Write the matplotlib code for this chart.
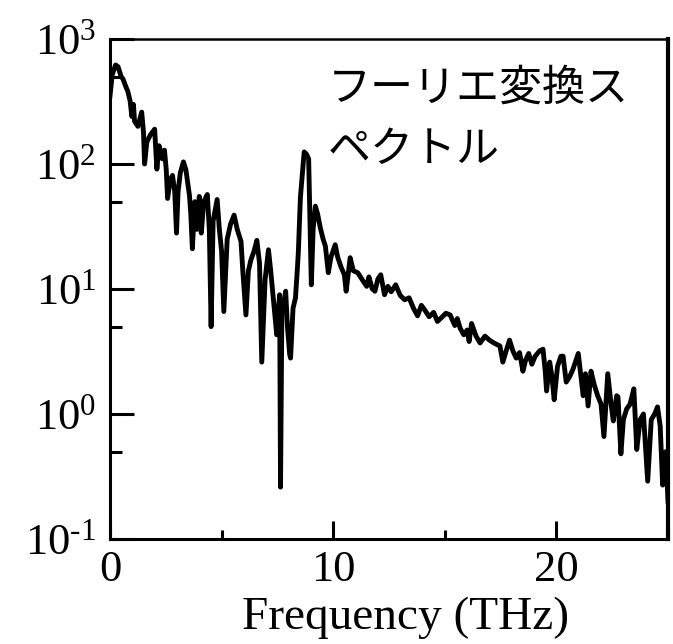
import matplotlib
matplotlib.use('Agg')
import matplotlib.pyplot as plt

# Spectrum (frequency in THz, amplitude)
freq = [0.00, 0.10, 0.25, 0.36, 0.50, 0.58, 0.70, 0.80, 0.90, 0.98, 1.05, 1.10, 1.25, 1.42, 1.50,
        1.55, 1.65, 1.80, 2.00, 2.10, 2.20, 2.35, 2.44, 2.52, 2.58, 2.70, 2.80, 2.90, 2.98, 3.05,
        3.15, 3.29, 3.40, 3.56, 3.62, 3.69, 3.80, 3.90, 4.00, 4.09, 4.20, 4.36, 4.45, 4.53, 4.62,
        4.80, 4.90, 5.00, 5.10, 5.25, 5.40, 5.56, 5.70, 5.87, 5.95, 6.09, 6.20, 6.31, 6.45, 6.58,
        6.70, 6.80, 6.95, 7.10, 7.20, 7.33, 7.40, 7.47, 7.55, 7.60, 7.64, 7.70, 7.80, 7.87, 7.95,
        8.05, 8.09, 8.20, 8.31, 8.40, 8.44, 8.53, 8.70, 8.80, 8.90, 9.02, 9.10, 9.20, 9.30, 9.42,
        9.55, 9.65, 9.78, 9.90, 10.09, 10.20, 10.35, 10.50, 10.58, 10.76, 10.90, 11.10, 11.35, 11.50, 11.60,
        11.75, 11.87, 12.00, 12.13, 12.30, 12.45, 12.60, 12.80, 13.00, 13.20, 13.40, 13.60, 13.78, 13.95, 14.10,
        14.30, 14.50, 14.67, 14.85, 15.05, 15.24, 15.45, 15.56, 15.69, 15.85, 16.00, 16.09, 16.20, 16.40, 16.58,
        16.80, 17.00, 17.20, 17.47, 17.60, 17.75, 17.90, 18.05, 18.20, 18.35, 18.50, 18.62, 18.76, 18.90, 19.05,
        19.25, 19.40, 19.50, 19.56, 19.70, 19.80, 19.90, 20.05, 20.20, 20.30, 20.44, 20.60, 20.75, 20.98, 21.10,
        21.20, 21.30, 21.42, 21.55, 21.70, 21.85, 22.00, 22.13, 22.30, 22.45, 22.55, 22.70, 22.76, 22.89, 23.00,
        23.15, 23.30, 23.47, 23.60, 23.75, 23.90, 24.09, 24.25, 24.40, 24.53, 24.65, 24.76, 24.90, 25.00]
amp = [350, 520, 620, 600, 500, 480, 420, 380, 320, 240, 300, 220, 200, 260, 180,
       100, 150, 170, 190, 91, 140, 110, 129, 90, 53, 75, 81, 60, 28, 60,
       85, 104, 90, 56, 40, 21, 50, 30, 55, 28, 50, 57, 30, 5.0, 35,
       52, 30, 20, 6.6, 25, 33, 39, 30, 24, 14, 6.2, 14, 17, 20, 24.5,
       16, 2.6, 12, 20.6, 14, 8, 6, 4.3, 7, 9, 0.26, 6.5, 8, 9.6, 5,
       3, 2.8, 7, 8.5, 15, 20, 54, 125, 120, 110, 10.8, 30, 46, 40, 31,
       25, 22, 13.5, 18, 22.6, 18, 15, 13, 9.6, 17.8, 14, 13.5, 11.5, 10.5, 12.5,
       10, 9.6, 12, 13, 9, 10.5, 9.5, 10.8, 8.9, 8.2, 8.5, 7.0, 6.1, 7.4, 6.8,
       6.0, 6.5, 5.5, 5.9, 6.4, 6.2, 5.1, 5.8, 4.85, 4.3, 4.7, 3.8, 5.3, 4.2, 3.7,
       4.2, 3.9, 3.7, 3.5, 2.6, 3.2, 3.9, 3.2, 2.8, 3.1, 2.2, 2.7, 3.05, 2.5, 2.9,
       3.2, 3.3, 2.2, 1.53, 2.6, 2.0, 1.3, 2.4, 2.9, 2.9, 1.8, 2.0, 2.3, 3.05, 2.0,
       1.4, 2.1, 1.16, 2.2, 1.7, 1.4, 1.2, 0.66, 2.1, 1.2, 0.88, 1.4, 1.37, 0.48, 0.9,
       1.1, 1.2, 1.59, 0.52, 0.9, 1.0, 0.29, 0.9, 1.0, 1.14, 0.8, 0.27, 0.5, 0.2]

x_major = [0, 10, 20]
x_labels = ['0', '10', '20']
x_minor = [5, 15, 25]
y_major = [0.1, 1, 10, 100, 1000]
y_labels = [r'$\mathregular{10^{\text{-}1}}$', r'$\mathregular{10^{0}}$', r'$\mathregular{10^{1}}$',
            r'$\mathregular{10^{2}}$', r'$\mathregular{10^{3}}$']
y_minor = [0.5, 5, 50, 500]

plt.rcParams['font.family'] = 'serif'
plt.rcParams['font.serif'] = ['Liberation Serif']
plt.rcParams['mathtext.fontset'] = 'custom'
plt.rcParams['mathtext.rm'] = 'Liberation Serif'
plt.rcParams['axes.unicode_minus'] = False

fig = plt.figure(figsize=(6.73, 6.44), dpi=100)
ax = fig.add_axes([110/673, 1 - 539/644, 558/673, 500/644])

ax.plot(freq, amp, color='black', lw=3.5)
ax.set_yscale('log')
ax.set_xlim(0, 25)
ax.set_ylim(0.1, 1000)

ax.set_xticks(x_major)
ax.set_xticklabels(x_labels)
ax.set_xticks(x_minor, minor=True)
ax.set_yticks(y_major)
ax.set_yticklabels(y_labels)
ax.set_yticks(y_minor, minor=True)
ax.yaxis.set_minor_formatter(matplotlib.ticker.NullFormatter())

ax.tick_params(axis='both', which='both', direction='in', width=2.2, labelsize=32)
ax.tick_params(axis='y', which='major', length=17, pad=10)
ax.tick_params(axis='y', which='minor', length=8.5)
ax.tick_params(axis='x', which='major', length=13, pad=8)
ax.tick_params(axis='x', which='minor', length=6.5)

for side in ['left', 'bottom']:
    ax.spines[side].set_linewidth(2.2)
ax.spines['top'].set_linewidth(1.8)
ax.spines['right'].set_linewidth(3)

ax.set_xlabel('Frequency (THz)', fontsize=34)
ax.xaxis.set_label_coords(0.53, -0.115)

ax.text(0.39, 0.945, 'フーリエ変換ス\nペクトル', transform=ax.transAxes,
        family=['Noto Sans CJK JP', 'DejaVu Sans'], fontsize=31, va='top', ha='left',
        linespacing=1.5)

fig.savefig('out.png', dpi=100)
